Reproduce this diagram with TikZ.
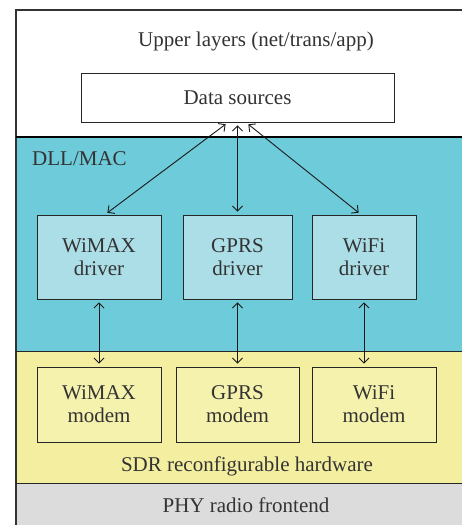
\documentclass[tikz,border=0pt]{standalone}
\usepackage{fontspec}
\setmainfont{Liberation Serif}
\usetikzlibrary{arrows.meta,calc}
\definecolor{layercyan}{HTML}{6ECBD9}
\definecolor{boxcyan}{HTML}{ACDEE7}
\definecolor{layeryellow}{HTML}{F4EFA0}
\definecolor{boxyellow}{HTML}{F5F2AE}
\definecolor{layergray}{HTML}{DCDCDC}
\definecolor{txt}{HTML}{333333}
\tikzset{
  lbl/.style={text=txt,font=\fontsize{21}{23}\selectfont,inner sep=0pt},
  blk/.style={draw=black!85,line width=0.9pt,text=txt,font=\fontsize{21}{23}\selectfont,align=center,inner sep=0pt},
  link/.style={{Straight Barb[length=5pt,width=10pt]}-{Straight Barb[length=5pt,width=10pt]},line width=0.9pt,black!90,shorten <=3pt,shorten >=3pt}
}
\begin{document}
\begin{tikzpicture}[x=1pt,y=-1pt]
\useasboundingbox (0,0) rectangle (462,525);
% layers
\fill[white] (16,10) rectangle (470,137);
\fill[layercyan] (16,137) rectangle (470,351);
\fill[layeryellow] (16,351) rectangle (470,483);
\fill[layergray] (16,483) rectangle (470,530);
\draw[black!80,line width=1.3pt] (470,10) -- (16,10) -- (16,530);
\draw[black,line width=1.6pt] (16,137) -- (470,137);
\draw[black!85,line width=0.9pt] (16,351) -- (470,351);
\draw[black!85,line width=0.9pt] (16,483) -- (470,483);
% layer labels
\node[lbl] (upper) at (256,41) {Upper layers (net/trans/app)};
\node[lbl,anchor=base west] (dll) at (32,165) {DLL/MAC};
\node[lbl,anchor=base] (sdr) at (247,471) {SDR reconfigurable hardware};
\node[lbl,anchor=base] (phy) at (246,512) {PHY radio frontend};
% boxes
\node[blk,fill=white,minimum width=313pt,minimum height=49pt] (ds) at (237.5,97.5) {Data sources};
\node[blk,fill=boxcyan,minimum width=124pt,minimum height=84pt] (wd) at (99,257) {WiMAX\\driver};
\node[blk,fill=boxcyan,minimum width=109pt,minimum height=84pt] (gd) at (237.5,257) {GPRS\\driver};
\node[blk,fill=boxcyan,minimum width=104pt,minimum height=84pt] (fd) at (364,257) {WiFi\\driver};
\node[blk,fill=boxyellow,minimum width=124pt,minimum height=75pt] (wm) at (99,404.5) {WiMAX\\modem};
\node[blk,fill=boxyellow,minimum width=123pt,minimum height=75pt] (gm) at (237.5,404.5) {GPRS\\modem};
\node[blk,fill=boxyellow,minimum width=124pt,minimum height=75pt] (fm) at (374,404.5) {WiFi\\modem};
% connectors
\draw[link] ($(ds.south)+(-9.5,0)$) -- ($(wd.north)+(6,0)$);
\draw[link] (ds.south) -- (gd.north);
\draw[link] ($(ds.south)+(8.5,0)$) -- ($(fd.north)+(-3,0)$);
\draw[link] (wd.south) -- (wd.south |- wm.north);
\draw[link] (gd.south) -- (gd.south |- gm.north);
\draw[link] (fd.south) -- (fd.south |- fm.north);
\end{tikzpicture}
\end{document}
